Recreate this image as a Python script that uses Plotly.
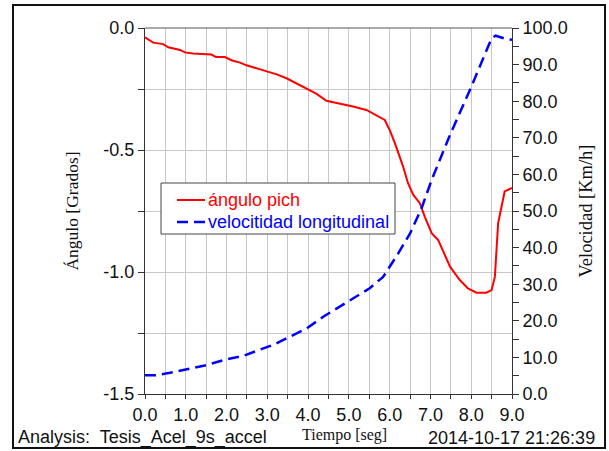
import plotly.graph_objects as go

# Data
t_angle = [0, 0.2, 0.45, 0.57, 0.86, 0.98, 1.18, 1.47, 1.63, 1.74, 1.96, 2.12, 2.33, 2.49, 2.74,
           2.98, 3.23, 3.47, 3.72, 3.96, 4.21, 4.45, 4.78, 5.1, 5.43, 5.68, 5.88, 6.0, 6.13, 6.33,
           6.45, 6.58, 6.74, 6.86, 7.03, 7.19, 7.48, 7.72, 7.92, 8.13, 8.37, 8.5, 8.58, 8.66, 8.82, 9.0]
angle = [-0.038, -0.06, -0.066, -0.079, -0.09, -0.1, -0.104, -0.109, -0.109, -0.119, -0.119, -0.132,
         -0.142, -0.153, -0.165, -0.179, -0.19, -0.206, -0.227, -0.247, -0.27, -0.298, -0.309, -0.322,
         -0.336, -0.357, -0.377, -0.418, -0.473, -0.568, -0.636, -0.684, -0.718, -0.773, -0.841, -0.869,
         -0.978, -1.033, -1.067, -1.085, -1.085, -1.074, -1.02, -0.8, -0.67, -0.655]

t_vel = [0, 0.25, 0.61, 1.1, 1.51, 2.0, 2.41, 2.74, 3.14, 3.47, 3.96, 4.37, 4.78, 5.1, 5.51, 5.84,
         6.0, 6.21, 6.5, 6.78, 7.03, 7.48, 7.97, 8.5, 8.6, 8.86, 9.0]
velocity = [5.1, 5.1, 5.8, 7.0, 7.9, 9.5, 10.4, 11.8, 13.4, 15.2, 17.9, 21.1, 23.9, 26.1, 28.9, 32.0,
            34.8, 38.4, 43.9, 50.7, 58.5, 70.8, 83.1, 97.2, 97.9, 97.0, 96.8]

series_names = ["ángulo pich", "velocitidad longitudinal"]
series_colors = ["#ff0000", "#0000ff"]

x_ticks = [i * 0.5 for i in range(19)]
x_labels = [f"{v:.1f}" if v == int(v) else "" for v in x_ticks]
y_ticks = [-1.5, -1.25, -1.0, -0.75, -0.5, -0.25, 0.0]
y_labels = ["-1.5", "", "-1.0", "", "-0.5", "", "0.0"]
y2_ticks = list(range(0, 101, 10))
y2_labels = [f"{v:.1f}" for v in y2_ticks]

SANS = "Liberation Sans, Arial, sans-serif"
SERIF = "Liberation Serif, Times New Roman, serif"
TXT = "#111111"

# plot-area geometry (pixels) used to convert legend/frame pixels to paper coords
L, R, T, B = 145, 512, 28, 394


def px(x):
    return (x - L) / (R - L)


def py(y):
    return (B - y) / (B - T)


fig = go.Figure()
fig.add_trace(go.Scatter(
    x=t_angle, y=angle, mode="lines", yaxis="y", name=series_names[0],
    line=dict(color=series_colors[0], width=2)))
fig.add_trace(go.Scatter(
    x=t_vel, y=velocity, mode="lines", yaxis="y2", name=series_names[1],
    line=dict(color=series_colors[1], width=2.5, dash="11px,6px")))

fig.update_layout(
    width=609, height=451,
    margin=dict(l=L, r=609 - R, t=T, b=451 - B),
    paper_bgcolor="white", plot_bgcolor="white",
    font=dict(family=SANS, size=18, color=TXT),
    hovermode=False,
    showlegend=False,
    xaxis=dict(
        range=[0, 9], tickmode="array", tickvals=x_ticks, ticktext=x_labels,
        showgrid=True, gridcolor="#c8c8c8", gridwidth=1,
        showline=True, linecolor="#333333", linewidth=1, mirror=False,
        ticks="outside", ticklen=4, tickcolor="#333333",
        tickfont=dict(family=SANS, size=18, color=TXT),
        zeroline=False,
    ),
    yaxis=dict(
        range=[-1.5, 0], tickmode="array", tickvals=y_ticks, ticktext=y_labels,
        showgrid=True, gridcolor="#c8c8c8", gridwidth=1,
        showline=True, linecolor="#333333", linewidth=1,
        ticks="outside", ticklen=6, tickcolor="#333333",
        tickfont=dict(family=SANS, size=18, color=TXT),
        zeroline=False,
        title=dict(text="Ángulo [Grados]", font=dict(family=SERIF, size=17.5, color=TXT), standoff=20),
    ),
    yaxis2=dict(
        range=[0, 100], overlaying="y", side="right",
        tickmode="array", tickvals=y2_ticks, ticktext=y2_labels,
        showgrid=False, zeroline=False,
        showline=True, linecolor="#333333", linewidth=1,
        ticks="outside", ticklen=6, tickcolor="#333333",
        minor=dict(dtick=5, ticks="outside", ticklen=6, tickcolor="#333333", showgrid=False),
        tickfont=dict(family=SANS, size=18, color=TXT),
        title=dict(text="Velocidad [Km/h]", font=dict(family=SERIF, size=18.5, color=TXT), standoff=12),
    ),
)

# top border of plot area
fig.add_shape(type="line", xref="paper", yref="paper", x0=0, x1=1, y0=1, y1=1,
              line=dict(color="#555555", width=1))
# outer frame
fig.add_shape(type="rect", xref="paper", yref="paper",
              x0=px(13), x1=px(605), y0=py(448), y1=py(5),
              line=dict(color="#111111", width=2), fillcolor="rgba(0,0,0,0)", layer="above")

# legend box (drawn manually to match the reference layout)
fig.add_shape(type="rect", xref="paper", yref="paper",
              x0=px(161), x1=px(395), y0=py(234), y1=py(183),
              line=dict(color="#444444", width=1), fillcolor="white", layer="above")
legend_rows = [200, 222]
fig.add_shape(type="line", xref="paper", yref="paper",
              x0=px(177), x1=px(205), y0=py(legend_rows[0]), y1=py(legend_rows[0]),
              line=dict(color=series_colors[0], width=2), layer="above")
fig.add_shape(type="line", xref="paper", yref="paper",
              x0=px(177), x1=px(205), y0=py(legend_rows[1]), y1=py(legend_rows[1]),
              line=dict(color=series_colors[1], width=2.5, dash="11px,6px"), layer="above")
for name, color, row in zip(series_names, series_colors, legend_rows):
    fig.add_annotation(text=name, xref="paper", yref="paper",
                       x=px(206), y=py(row), xanchor="left", yanchor="middle", showarrow=False,
                       font=dict(family=SANS, size=18, color=color))

fig.add_annotation(text="Analysis:  Tesis_Acel_9s_accel", xref="paper", yref="paper",
                   x=px(16), y=py(438), xanchor="left", yanchor="middle", showarrow=False,
                   font=dict(family=SANS, size=18, color=TXT))
fig.add_annotation(text="Tiempo [seg]", xref="paper", yref="paper",
                   x=px(344), y=py(435), xanchor="center", yanchor="middle", showarrow=False,
                   font=dict(family=SERIF, size=16, color=TXT))
fig.add_annotation(text="2014-10-17 21:26:39", xref="paper", yref="paper",
                   x=px(597), y=py(438), xanchor="right", yanchor="middle", showarrow=False,
                   font=dict(family=SANS, size=18, color=TXT))

fig.write_html("out.html", config={"displayModeBar": False},
               post_script="document.body.style.margin='0px';")
